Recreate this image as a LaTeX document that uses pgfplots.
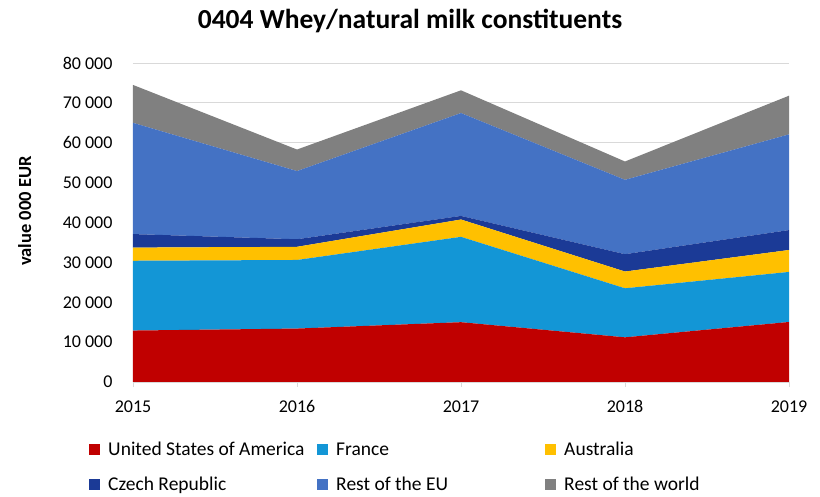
\documentclass[border=0pt]{standalone}
\usepackage{pgfplots}
\pgfplotsset{compat=1.18}
\usepackage{fontspec}
\setmainfont{Carlito}
\definecolor{cUSA}{HTML}{C00000}
\definecolor{cFR}{HTML}{1396D6}
\definecolor{cAU}{HTML}{FFC000}
\definecolor{cCZ}{HTML}{1B3A96}
\definecolor{cEU}{HTML}{4472C4}
\definecolor{cRW}{HTML}{808080}
\definecolor{gridc}{HTML}{D9D9D9}
\begin{document}
\begin{tikzpicture}
\useasboundingbox (0pt,0pt) rectangle (820pt,497pt);
\begin{axis}[
  at={(133pt,115pt)}, anchor=south west,
  scale only axis, width=656pt, height=319pt,
  xmin=2015, xmax=2019, ymin=0, ymax=80000,
  xtick={2015,2016,2017,2018,2019},
  xticklabels={2015,2016,2017,2018,2019},
  ytick={0,10000,...,80000},
  stack plots=y,
  axis lines*=left,
  y axis line style={draw=none},
  x axis line style={draw=gridc, line width=0.8pt},
  ymajorgrids, grid style={draw=gridc, line width=0.8pt},
  tick align=outside,
  ytick style={draw=none},
  xtick style={draw=gridc, line width=0.8pt},
  major tick length=5pt,
  scaled y ticks=false,
  /pgf/number format/assume math mode=true,
  yticklabel style={/pgf/number format/1000 sep={\ }, font=\fontsize{18}{21}\selectfont, xshift=-12pt},
  xticklabel style={font=\fontsize{18}{21}\selectfont, yshift=-10pt},
  ylabel={\textbf{value 000 EUR}},
  every axis y label/.style={at={(axis description cs:-0.165,0.536)}, anchor=center, rotate=90, font=\fontsize{18.5}{22}\selectfont},
  legend columns=3,
  legend style={at={(rel axis cs:-0.067,-0.182)}, anchor=north west, draw=none, fill=none,
    inner sep=0pt, row sep=16pt, column sep=0pt,
    font=\fontsize{19.5}{23}\selectfont,
    /tikz/every odd column/.append style={column sep=6pt},
    /tikz/every even column/.append style={column sep=0pt}},
  legend cell align=left,
  legend image code/.code={\fill[#1, draw=none] (0pt,-5.5pt) rectangle (11pt,5.5pt);},
]
\addplot[fill=cUSA, draw=none] coordinates {(2015,12900) (2016,13400) (2017,15000) (2018,11200) (2019,15050)} \closedcycle;
\addlegendentry{\makebox[207pt][l]{United States of America}}
\addplot[fill=cFR, draw=none] coordinates {(2015,17500) (2016,17200) (2017,21400) (2018,12300) (2019,12550)} \closedcycle;
\addlegendentry{\makebox[207pt][l]{France}}
\addplot[fill=cAU, draw=none] coordinates {(2015,3300) (2016,3300) (2017,4350) (2018,4200) (2019,5500)} \closedcycle;
\addlegendentry{\makebox[207pt][l]{Australia}}
\addplot[fill=cCZ, draw=none] coordinates {(2015,3400) (2016,1900) (2017,900) (2018,4350) (2019,5000)} \closedcycle;
\addlegendentry{\makebox[207pt][l]{Czech Republic}}
\addplot[fill=cEU, draw=none] coordinates {(2015,27900) (2016,17100) (2017,25800) (2018,18650) (2019,24000)} \closedcycle;
\addlegendentry{\makebox[207pt][l]{Rest of the EU}}
\addplot[fill=cRW, draw=none] coordinates {(2015,9500) (2016,5400) (2017,5700) (2018,4600) (2019,9700)} \closedcycle;
\addlegendentry{\makebox[207pt][l]{Rest of the world}}
\end{axis}
\node[font=\bfseries\fontsize{27.5}{32}\selectfont] at (410pt,476pt) {0404 Whey/natural milk constituents};
\end{tikzpicture}
\end{document}
